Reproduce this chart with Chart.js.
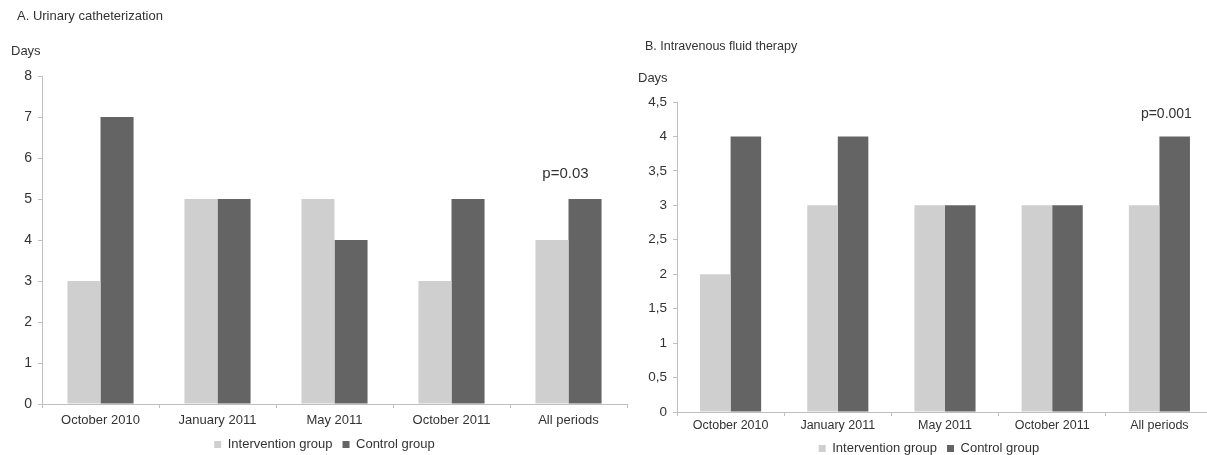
<!DOCTYPE html>
<html>
<head>
<meta charset="utf-8">
<script src="https://cdn.jsdelivr.net/npm/chart.js@4"></script>
<style>
  html, body { margin: 0; padding: 0; background: #fff; overflow: hidden; width: 1207px; height: 455px; }
  .box { position: absolute; top: 0; }
  #boxA { left: 0; width: 630px; height: 461px; }
  #boxB { left: 600px; width: 615px; height: 465px; }
</style>
</head>
<body>
<div class="box" id="boxA"><canvas id="chartA"></canvas></div>
<div class="box" id="boxB"><canvas id="chartB"></canvas></div>
<script>
// categories and series
const categories = ['October 2010', 'January 2011', 'May 2011', 'October 2011', 'All periods'];
const seriesNames = ['Intervention group', 'Control group'];

// A. urinary catheterization (days)
const catheterIntervention = [3, 5, 5, 3, 4];
const catheterControl = [7, 5, 4, 5, 5];
const catheterTicks = ['0', '1', '2', '3', '4', '5', '6', '7', '8'];

// B. intravenous fluid therapy (days)
const fluidIntervention = [2, 3, 3, 3, 3];
const fluidControl = [4, 4, 3, 3, 4];
const fluidTicks = ['0', '0,5', '1', '1,5', '2', '2,5', '3', '3,5', '4', '4,5'];

const FONT = '"Liberation Sans", Arial, sans-serif';
const TEXT = '#333333';
const AXIS = '#bfbfbf';
const LIGHT = '#cfcfcf';
const DARK = '#646464';

// heading, unit label and p-value note
const headingPlugin = {
  id: 'heading',
  afterDraw(chart, args, opts) {
    const ctx = chart.ctx;
    const left = chart.chartArea.left;
    ctx.save();
    ctx.fillStyle = TEXT;
    ctx.textBaseline = 'middle';
    ctx.textAlign = 'left';
    ctx.font = opts.titleSize + 'px ' + FONT;
    ctx.fillText(opts.title, left + opts.titleX, opts.titleY);
    ctx.font = '13px ' + FONT;
    ctx.fillText('Days', left + opts.unitX, opts.unitY);
    // p-value sits above the last control bar
    const last = categories.length - 1;
    const x = chart.scales.x.getPixelForValue(last) + opts.pDx;
    const y = chart.scales.y.getPixelForValue(opts.pBase[last]) - opts.pDy;
    ctx.font = opts.pSize + 'px ' + FONT;
    ctx.textAlign = 'center';
    ctx.fillText(opts.pText, x, y);
    ctx.restore();
  }
};

function makeChart(id, intervention, control, tickLabels, max, step, cfg) {
  return new Chart(document.getElementById(id), {
    type: 'bar',
    data: {
      labels: categories,
      datasets: [
        { label: seriesNames[0], data: intervention, backgroundColor: LIGHT, borderColor: LIGHT, borderWidth: 0,
          barPercentage: 1, categoryPercentage: cfg.catPct },
        { label: seriesNames[1], data: control, backgroundColor: DARK, borderColor: DARK, borderWidth: 0,
          barPercentage: 1, categoryPercentage: cfg.catPct }
      ]
    },
    options: {
      responsive: true,
      maintainAspectRatio: false,
      animation: false,
      layout: { padding: { top: cfg.top, left: cfg.padLeft, right: cfg.padRight, bottom: 0 } },
      plugins: {
        legend: {
          position: 'bottom',
          labels: { boxWidth: 7, boxHeight: 7, padding: 10, color: TEXT, font: { family: FONT, size: 13 } }
        },
        tooltip: { enabled: false },
        heading: cfg.heading
      },
      scales: {
        x: {
          grid: { drawOnChartArea: false, tickLength: 4, color: AXIS, offset: true },
          border: { color: AXIS },
          ticks: { color: TEXT, padding: cfg.xPad, maxRotation: 0, font: { family: FONT, size: cfg.xFont } },
          afterFit: s => { s.height = cfg.xHeight; }
        },
        y: {
          min: 0,
          max: max,
          grid: { drawOnChartArea: false, tickLength: 4, color: AXIS },
          border: { color: AXIS },
          ticks: {
            stepSize: step, color: TEXT, padding: 6, font: { family: FONT, size: cfg.yFont },
            callback: v => tickLabels[Math.round(v / step)]
          },
          afterFit: s => { s.width = cfg.yWidth; }
        }
      }
    },
    plugins: [headingPlugin]
  });
}

makeChart('chartA', catheterIntervention, catheterControl, catheterTicks, 8, 1, {
  catPct: 0.565, top: 76, padLeft: 22, padRight: 3, yWidth: 20, xHeight: 24, xPad: 5, xFont: 13, yFont: 14,
  heading: { title: 'A. Urinary catheterization', titleSize: 13, titleX: -25, titleY: 16, unitX: -31, unitY: 51,
             pText: 'p=0.03', pSize: 15, pDx: -3, pDy: 25, pBase: catheterControl }
});

makeChart('chartB', fluidIntervention, fluidControl, fluidTicks, 4.5, 0.5, {
  catPct: 0.57, top: 102, padLeft: 45, padRight: 2, yWidth: 32, xHeight: 20, xPad: 2, xFont: 12.5, yFont: 13.5,
  heading: { title: 'B. Intravenous fluid therapy', titleSize: 12.5, titleX: -32, titleY: 47, unitX: -39, unitY: 78,
             pText: 'p=0.001', pSize: 14, pDx: 7, pDy: 22, pBase: fluidControl }
});
</script>
</body>
</html>
